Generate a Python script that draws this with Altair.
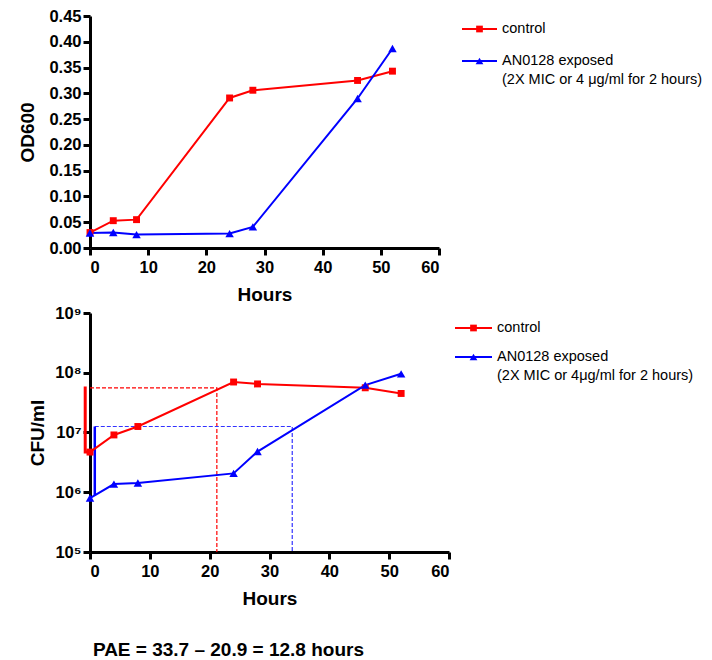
import altair as alt
import pandas as pd

hours = [0, 4, 8, 24, 28, 46, 52]
od_control = [0.030, 0.053, 0.055, 0.291, 0.306, 0.325, 0.343]
od_exposed = [0.029, 0.030, 0.026, 0.028, 0.041, 0.290, 0.387]
cfu_control = [4.7e6, 9.1e6, 1.26e7, 7.0e7, 6.5e7, 5.6e7, 4.5e7]
cfu_exposed = [8.0e5, 1.37e6, 1.43e6, 2.07e6, 4.8e6, 6.2e7, 9.6e7]

series_names = ["control", "AN0128 exposed"]
series_colors = ["#FF0000", "#0000FF"]
series_shapes = ["square", "triangle-up"]

# 1-log increase markers (solid) and PAE read-off lines (dashed)
red_mark_x = [-0.8, -0.8, 0]
red_mark_y = [5.9e7, 4.7e6, 4.7e6]
blue_mark_x = [0.8, 0.8]
blue_mark_y = [8.9e5, 1.26e7]
red_dash_x = [0, 21.2, 21.2]
red_dash_y = [5.6e7, 5.6e7, 1e5]
blue_dash_x = [0.8, 33.8, 33.8]
blue_dash_y = [1.26e7, 1.26e7, 1e5]

x_ticks = [0, 10, 20, 30, 40, 50, 60]
od_ticks = [round(i * 0.05, 2) for i in range(10)]
cfu_ticks = [1e5, 1e6, 1e7, 1e8, 1e9]

FONT = "Liberation Sans"

def long_df(ys_a, ys_b):
    rows = []
    for h, a in zip(hours, ys_a):
        rows.append({"h": h, "v": a, "s": series_names[0]})
    for h, b in zip(hours, ys_b):
        rows.append({"h": h, "v": b, "s": series_names[1]})
    return pd.DataFrame(rows)

color_scale = alt.Scale(domain=series_names, range=series_colors)
shape_scale = alt.Scale(domain=series_names, range=series_shapes)
size_scale = alt.Scale(domain=series_names, range=[48, 72])

def xenc():
    return alt.X("h:Q", scale=alt.Scale(domain=[0, 60], nice=False),
                 axis=alt.Axis(values=x_ticks, title="Hours", titlePadding=10))

def legend_layers(x0, x1, y1, y2, line2_text):
    one = pd.DataFrame({"a": [0]})
    xm = (x0 + x1) / 2
    tx = x1 + 5
    layers = []
    for yy, col, shp in [(y1, series_colors[0], "square"), (y2, series_colors[1], "triangle-up")]:
        layers.append(alt.Chart(one).mark_rule(color=col, strokeWidth=2).encode(
            x=alt.value(x0), x2=alt.value(x1), y=alt.value(yy)))
        layers.append(alt.Chart(one).mark_point(shape=shp, filled=True, color=col, opacity=1,
                                                size=45 if shp == "square" else 60).encode(
            x=alt.value(xm), y=alt.value(yy)))
    layers.append(alt.Chart(one).mark_text(text="control", align="left", baseline="middle",
                                           font=FONT, fontSize=14.5, color="black").encode(
        x=alt.value(tx), y=alt.value(y1)))
    layers.append(alt.Chart(one).mark_text(text="AN0128 exposed", align="left", baseline="middle",
                                           font=FONT, fontSize=14.5, color="black").encode(
        x=alt.value(tx), y=alt.value(y2)))
    layers.append(alt.Chart(one).mark_text(text=line2_text, align="left", baseline="middle",
                                           font=FONT, fontSize=14.5, color="black").encode(
        x=alt.value(tx), y=alt.value(y2 + 19)))
    return layers

# ---- top panel ----
df_top = long_df(od_control, od_exposed)
ytop = alt.Y("v:Q", scale=alt.Scale(domain=[0, 0.45], nice=False),
             axis=alt.Axis(values=od_ticks, format=".2f", title="OD600", titlePadding=11))
top_line = alt.Chart(df_top).mark_line(strokeWidth=2).encode(
    x=xenc(), y=ytop, color=alt.Color("s:N", scale=color_scale, legend=None), detail="s:N")
top_pts = alt.Chart(df_top).mark_point(filled=True, opacity=1).encode(
    x=xenc(), y=ytop, color=alt.Color("s:N", scale=color_scale, legend=None),
    shape=alt.Shape("s:N", scale=shape_scale, legend=None),
    size=alt.Size("s:N", scale=size_scale, legend=None))
top = alt.layer(top_line, top_pts,
                *legend_layers(372, 407, 13, 45, "(2X MIC or 4 \u03bcg/ml for 2 hours)")
                ).properties(width=349, height=232)

# ---- bottom panel ----
df_bot = long_df(cfu_control, cfu_exposed)
ybot = alt.Y("v:Q", scale=alt.Scale(type="log", domain=[1e5, 1e9], nice=False),
             axis=alt.Axis(values=cfu_ticks, title="CFU/ml", titlePadding=7,
                           labelExpr="'10' + ['\u2070','\u00b9','\u00b2','\u00b3','\u2074','\u2075','\u2076','\u2077','\u2078','\u2079'][round(log(datum.value)/LN10)]"))

def path_df(xs, ys):
    return pd.DataFrame({"h": xs, "v": ys, "o": list(range(len(xs)))})

bot_line = alt.Chart(df_bot).mark_line(strokeWidth=2).encode(
    x=xenc(), y=ybot, color=alt.Color("s:N", scale=color_scale, legend=None), detail="s:N")
bot_pts = alt.Chart(df_bot).mark_point(filled=True, opacity=1).encode(
    x=xenc(), y=ybot, color=alt.Color("s:N", scale=color_scale, legend=None),
    shape=alt.Shape("s:N", scale=shape_scale, legend=None),
    size=alt.Size("s:N", scale=size_scale, legend=None))
red_mark = alt.Chart(path_df(red_mark_x, red_mark_y)).mark_line(color="#FF0000", strokeWidth=3).encode(
    x=xenc(), y=ybot, order="o:Q")
blue_mark = alt.Chart(path_df(blue_mark_x, blue_mark_y)).mark_line(color="#0000FF", strokeWidth=2.5).encode(
    x=xenc(), y=ybot, order="o:Q")
red_dash = alt.Chart(path_df(red_dash_x, red_dash_y)).mark_line(color="#FF0000", strokeWidth=1.2, strokeDash=[4, 2]).encode(
    x=xenc(), y=ybot, order="o:Q")
blue_dash = alt.Chart(path_df(blue_dash_x, blue_dash_y)).mark_line(color="#3333FF", strokeWidth=1.2, strokeDash=[4, 2]).encode(
    x=xenc(), y=ybot, order="o:Q")
bottom = alt.layer(red_dash, blue_dash, red_mark, blue_mark, bot_line, bot_pts,
                   *legend_layers(365, 402, 15, 44, "(2X MIC or 4\u03bcg/ml for 2 hours)")
                   ).properties(width=359, height=239)

chart = alt.vconcat(top, bottom, spacing=0).properties(
    padding={"left": 10, "top": 0, "right": 0, "bottom": 0},
    title=alt.TitleParams("PAE = 33.7 \u2013 20.9 = 12.8 hours", orient="bottom", anchor="start",
                          font=FONT, fontSize=19, fontWeight="bold", color="black", dx=74, offset=32),
).configure_view(stroke=None).configure_axis(
    grid=False, domainColor="black", domainWidth=3, tickColor="black", tickWidth=3, tickSize=7,
    labelFont=FONT, labelFontWeight="bold", labelFontSize=16.5, labelColor="black", labelPadding=2,
    titleFont=FONT, titleFontWeight="bold", titleFontSize=19, titleColor="black",
).configure_axisX(labelPadding=4)

chart.save("out.html", embed_options={"renderer": "svg", "actions": False})
